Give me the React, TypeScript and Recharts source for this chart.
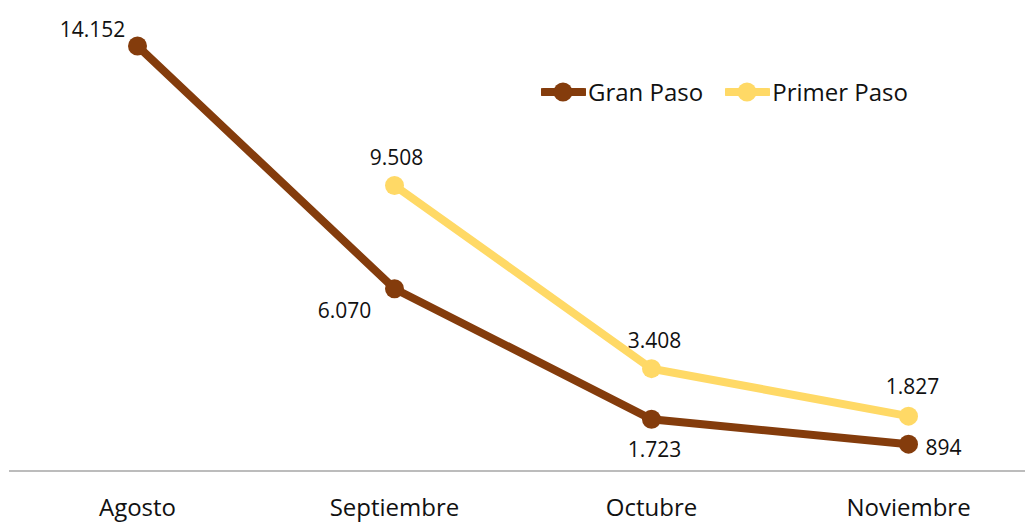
import { LineChart, Line, XAxis, YAxis, Legend, LabelList } from 'recharts';

const months = ['Agosto', 'Septiembre', 'Octubre', 'Noviembre'];
const granPaso = [14152, 6070, 1723, 894];
const primerPaso: (number | null)[] = [null, 9508, 3408, 1827];

const BROWN = '#843C0C';
const YELLOW = '#FFD966';
const FONT = '"Open Sans", sans-serif';

// label placement per point: [dx, dy, anchor]
const granLabelPos: [number, number, string][] = [
  [-45, -9, 'middle'],
  [-50, 29, 'middle'],
  [3, 38, 'middle'],
  [17, 11, 'start'],
];
const primerLabelPos: [number, number, string][] = [
  [0, -20, 'middle'],
  [2, -20, 'middle'],
  [3, -21, 'middle'],
  [4, -22, 'middle'],
];

const data = months.map((m, i) => ({ month: m, gran: granPaso[i], primer: primerPaso[i] }));

const fmt = (v: number) => String(v).replace(/\B(?=(\d{3})+(?!\d))/g, '.');

const makeLabel = (pos: [number, number, string][]) => (props: any) => {
  const { x, y, value, index } = props;
  if (value == null) return null;
  const [dx, dy, anchor] = pos[index];
  return (
    <text x={x + dx} y={y + dy} textAnchor={anchor} fontSize={21} fontFamily={FONT} fill="#111">
      {fmt(value)}
    </text>
  );
};

const AxisTick = (props: any) => {
  const { x, y, payload } = props;
  return (
    <text x={x} y={y} dy={45} textAnchor="middle" fontSize={24} fontFamily={FONT} fill="#111">
      {payload.value}
    </text>
  );
};

const LegendContent = (props: any) => {
  const items = props.payload || [];
  return (
    <div style={{ display: 'flex', alignItems: 'center', fontFamily: FONT, fontSize: 24, color: '#111' }}>
      {items.map((it: any, i: number) => (
        <div key={it.value} style={{ display: 'flex', alignItems: 'center', marginLeft: i ? 22 : 0 }}>
          <svg width={45} height={24}>
            <line x1={2} y1={12} x2={43} y2={12} stroke={it.color} strokeWidth={8} strokeLinecap="round" />
            <circle cx={22} cy={12} r={9.5} fill={it.color} />
          </svg>
          <span style={{ marginLeft: 2, lineHeight: '34px' }}>{it.value}</span>
        </div>
      ))}
    </div>
  );
};

export default function App() {
  return (
    <div style={{ position: 'fixed', left: 0, top: 0, width: 1025, height: 522, overflow: 'hidden', background: '#fff' }}>
      <LineChart width={1040} height={522} data={data} margin={{ top: 20.5, left: 9, right: 3, bottom: 0 }}>
        <XAxis
          dataKey="month"
          padding={{ left: 128.5, right: 128.5 }}
          height={51}
          tickLine={false}
          tickSize={0}
          tickMargin={0}
          stroke="#A6A6A6"
          strokeWidth={1.3}
          tick={<AxisTick />}
          interval={0}
        />
        <YAxis hide domain={[0, 15000]} />
        <Legend
          layout="horizontal"
          verticalAlign="middle"
          content={<LegendContent />}
          wrapperStyle={{ position: 'absolute', top: 75, left: 541, width: 'auto' }}
        />
        <Line
          name="Gran Paso"
          dataKey="gran"
          stroke={BROWN}
          strokeWidth={8}
          dot={{ r: 9.5, fill: BROWN, stroke: 'none' }}
          activeDot={false}
          isAnimationActive={false}
        >
          <LabelList dataKey="gran" content={makeLabel(granLabelPos)} />
        </Line>
        <Line
          name="Primer Paso"
          dataKey="primer"
          stroke={YELLOW}
          strokeWidth={8}
          dot={{ r: 9.5, fill: YELLOW, stroke: 'none' }}
          activeDot={false}
          isAnimationActive={false}
        >
          <LabelList dataKey="primer" content={makeLabel(primerLabelPos)} />
        </Line>
      </LineChart>
    </div>
  );
}
